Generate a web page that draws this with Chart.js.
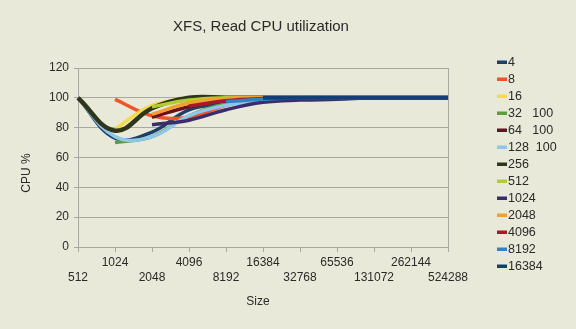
<!DOCTYPE html>
<html>
<head>
<meta charset="utf-8">
<script src="https://cdn.jsdelivr.net/npm/chart.js@4.4.1/dist/chart.umd.min.js"></script>
<style>
  html, body { margin: 0; padding: 0; background: #E9E9D9; }
  #wrap { width: 576px; height: 329px; }
</style>
</head>
<body>
<div id="wrap"><canvas id="cpu"></canvas></div>
<script>
// file sizes (categories)
const sizes = ['512', '1024', '2048', '4096', '8192', '16384', '32768', '65536', '131072', '262144', '524288'];

// one array per record size
const s4     = [100, 73, 77, 92, 96, 99, 100, 100, 100, 100, 100];
const s8     = [null, 99, 88, 87, 95, 99, 100, 100, 100, 100, 100];
const s16    = [null, 79, 95, 99, 100, 100, 100, 100, 100, 100, 100];
const s32    = [null, 70, 74, 88, 96, 99, 100, 100, 100, 100, 100];
const s64    = [null, null, 87, 94, 98, 99.5, 100, 100, 100, 100, 100];
const s128   = [100, 74, 74, 88, 95, 98, 100, 100, 100, 100, 100];
const s256   = [100, 78, 93, 100, 100, 100, 100, 100, 100, 100, 100];
const s512   = [null, null, 94, 98.5, 100, 100, 100, 100, 100, 100, 100];
const s1024  = [null, null, 82, 85, 92, 97, 98.5, 99, 100, 100, 100];
const s2048  = [null, null, 89, 96.5, 99.5, 100, 100, 100, 100, 100, 100];
const s4096  = [null, null, null, 94.5, 98, 99.5, 100, 100, 100, 100, 100];
const s8192  = [null, null, null, null, 97.5, 99, 100, 100, 100, 100, 100];
const s16384 = [null, null, null, null, null, 100, 100, 100, 100, 100, 100];

const seriesNames = ['4', '8', '16', '32   100', '64   100', '128  100', '256', '512', '1024', '2048', '4096', '8192', '16384'];
const seriesData = [s4, s8, s16, s32, s64, s128, s256, s512, s1024, s2048, s4096, s8192, s16384];
const seriesColors = ['#1E3F66', '#EE5528', '#F2DC4A', '#5E9E3A', '#6B1020', '#8EC6EE', '#2E3518',
                      '#B5CB32', '#3B2C6E', '#F0A030', '#A8182C', '#2F84C4', '#123F75'];

const yTicks = [0, 20, 40, 60, 80, 100, 120];

const FONT = "'Liberation Sans', Arial, sans-serif";
const TEXT = '#2a2a2a';
const GRID = '#A9A9A0';

// title, axis titles and legend are painted by hand so they sit where Excel put them
const decor = {
    id: 'decor',
    afterDraw(chart) {
        const c = chart.ctx;
        c.save();
        c.fillStyle = TEXT;
        c.textAlign = 'center';
        c.textBaseline = 'middle';
        c.font = '15px ' + FONT;
        c.fillText('XFS, Read CPU utilization', 261, 27);
        c.font = '12px ' + FONT;
        c.fillText('Size', 258, 302);
        c.save();
        c.translate(27, 173);
        c.rotate(-Math.PI / 2);
        c.fillText('CPU %', 0, 0);
        c.restore();

        // legend
        c.textAlign = 'left';
        c.font = '12.5px ' + FONT;
        chart.data.datasets.forEach(function(ds, i) {
            const y = 62 + i * 17;
            c.fillStyle = ds.borderColor;
            c.fillRect(497, y - 1.5, 10, 3.5);
            c.fillStyle = TEXT;
            c.fillText(ds.label, 508, y + 1);
        });
        c.restore();
    }
};

const ctx = document.getElementById('cpu').getContext('2d');
new Chart(ctx, {
    type: 'line',
    data: {
        labels: sizes,
        datasets: seriesData.map(function(d, i) {
            return {
                label: seriesNames[i],
                data: d,
                order: -i, // later series painted on top, like Excel
                borderColor: seriesColors[i],
                backgroundColor: seriesColors[i],
                borderWidth: i === 6 ? 4.5 : (i === 12 ? 4 : 3.5),
                pointRadius: 0,
                tension: 0.4,
                fill: false
            };
        })
    },
    options: {
        responsive: true,
        maintainAspectRatio: false,
        animation: false,
        layout: { padding: { top: 68, right: 128, bottom: 0, left: 0 } },
        plugins: {
            legend: { display: false },
            title: { display: false },
            tooltip: { enabled: false }
        },
        scales: {
            x: {
                offset: false,
                afterFit: function(scale) { scale.height = 82; },
                grid: {
                    color: function(c) { return c.index === sizes.length - 1 ? GRID : 'rgba(0,0,0,0)'; },
                    tickColor: GRID,
                    tickLength: 5,
                    lineWidth: 1
                },
                border: { color: GRID },
                ticks: {
                    autoSkip: false,
                    maxRotation: 0,
                    minRotation: 0,
                    padding: 3,
                    color: TEXT,
                    font: { family: FONT, size: 12, lineHeight: 1.25 },
                    callback: function(val, i) {
                        const l = this.getLabelForValue(val);
                        return i % 2 ? [l, ''] : ['', l];
                    }
                }
            },
            y: {
                min: 0,
                max: 120,
                afterFit: function(scale) { scale.width = 78; },
                afterBuildTicks: function(scale) { scale.ticks = yTicks.map(function(v) { return { value: v }; }); },
                grid: { color: GRID, tickColor: GRID, tickLength: 4 },
                border: { color: GRID },
                ticks: {
                    padding: 5,
                    color: TEXT,
                    font: { family: FONT, size: 12 }
                }
            }
        }
    },
    plugins: [decor]
});
</script>
</body>
</html>
